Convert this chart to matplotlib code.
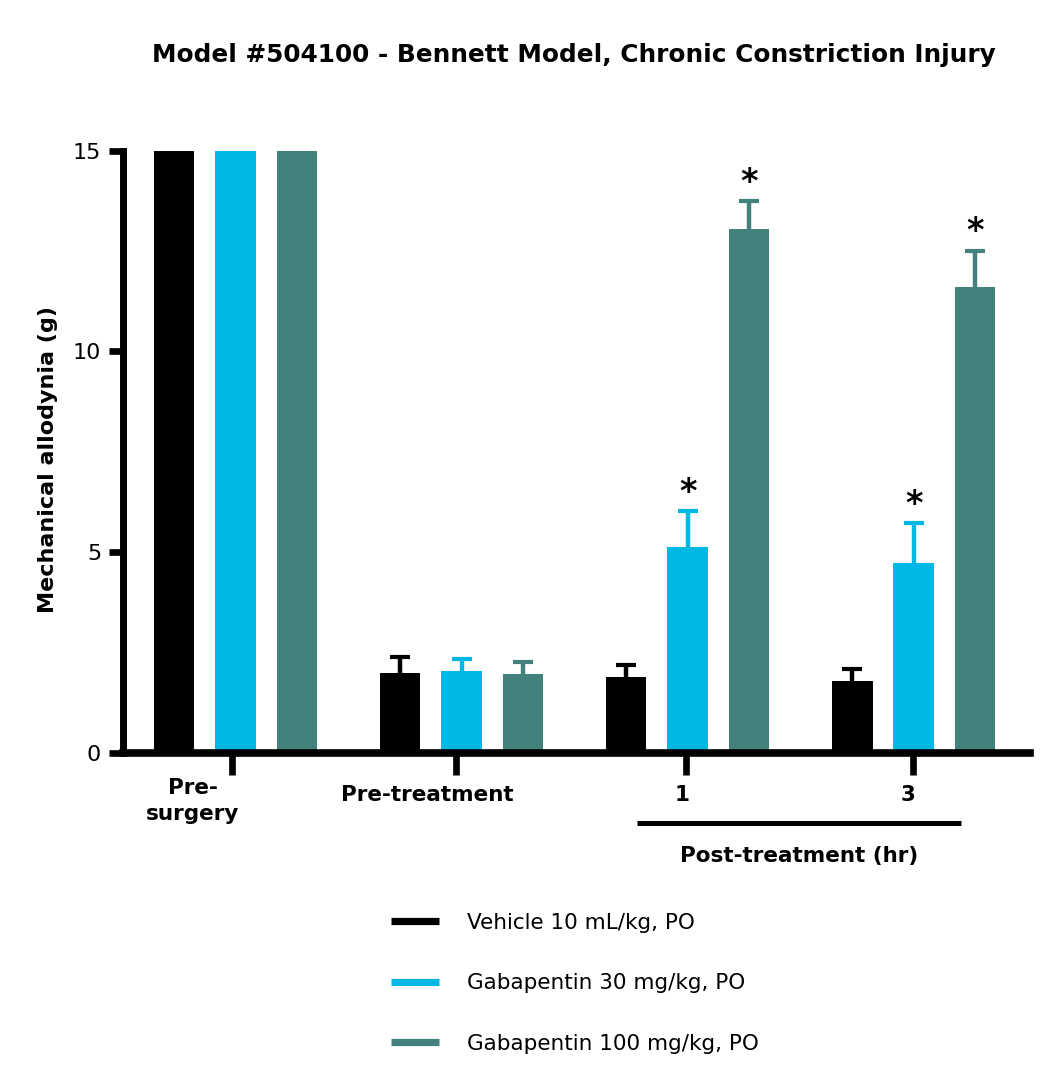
import numpy as np
import matplotlib
matplotlib.use("Agg")
import matplotlib.pyplot as plt
from matplotlib.lines import Line2D

# data
groups = ["Pre-\nsurgery", "Pre-treatment", "1", "3"]
series = ["Vehicle 10 mL/kg, PO", "Gabapentin 30 mg/kg, PO", "Gabapentin 100 mg/kg, PO"]
vehicle = [15, 1.99, 1.87, 1.77]
vehicle_err = [0, 0.39, 0.31, 0.32]
gaba30 = [15, 2.04, 5.11, 4.72]
gaba30_err = [0, 0.30, 0.90, 1.00]
gaba100 = [15, 1.96, 13.04, 11.60]
gaba100_err = [0, 0.30, 0.70, 0.90]
gaba30_sig = [False, False, True, True]
gaba100_sig = [False, False, True, True]
vehicle_sig = [False, False, False, False]

colors = ["#000000", "#00B8E4", "#43817C"]


def main():
    plt.rcParams["font.family"] = ["DejaVu Sans"]
    fig = plt.figure(figsize=(10.5, 10.9), dpi=100)
    ax = fig.add_axes([0.1167, 0.3096, 0.8643, 0.5523])

    x = np.arange(len(groups))
    width = 0.18
    offset = 0.272
    values = [vehicle, gaba30, gaba100]
    errors = [vehicle_err, gaba30_err, gaba100_err]
    sigs = [vehicle_sig, gaba30_sig, gaba100_sig]

    for i, (vals, errs, sig, col, name) in enumerate(zip(values, errors, sigs, colors, series)):
        pos = x + (i - 1) * offset
        vals = np.array(vals, dtype=float)
        errs = np.array(errs, dtype=float)
        ax.bar(pos, vals, width, color=col, label=name, zorder=2)
        # upper error only: stem + cap
        m = errs > 0
        ax.vlines(pos[m], vals[m], vals[m] + errs[m], color=col, lw=3.2, zorder=1)
        ax.plot(pos[m], vals[m] + errs[m], ls="none", marker="_", ms=15, mew=3,
                color=col, zorder=1)
        for p, v, e, s in zip(pos, vals, errs, sig):
            if s:
                ax.annotate("*", (p, v + e), xytext=(0, 6.8), textcoords="offset points",
                            ha="center", va="baseline", fontsize=24, fontweight="bold")

    ax.set_xlim(-0.5, 3.515)
    ax.set_ylim(0, 15)
    ax.set_yticks([0, 5, 10, 15])
    ax.spines["top"].set_visible(False)
    ax.spines["right"].set_visible(False)
    ax.spines["left"].set_linewidth(5)
    ax.spines["bottom"].set_linewidth(5.5)
    ax.tick_params(axis="y", direction="out", length=10.4, width=4.8, labelsize=16, pad=5)
    ax.tick_params(axis="x", direction="out", length=16, width=4.8, labelbottom=False)
    ax.set_xticks([-0.015, 0.975, 1.995, 2.995])

    # category labels (Prism places them a little left of the ticks)
    tr = ax.get_xaxis_transform()
    lab_x = [-0.19, 0.85, 1.975, 2.975]

    def fy(py):
        return (752.5 - py) / 602.0

    ax.text(lab_x[0], fy(794), "Pre-", transform=tr, ha="center", va="baseline",
            fontsize=15.5, fontweight="bold")
    ax.text(lab_x[0], fy(820), "surgery", transform=tr, ha="center", va="baseline",
            fontsize=15.5, fontweight="bold")
    for lx, g in zip(lab_x[1:], groups[1:]):
        ax.text(lx, fy(801), g, transform=tr, ha="center", va="baseline",
                fontsize=15.5, fontweight="bold")

    # bracket under post-treatment groups
    ax.plot([1.775, 3.21], [fy(823.3)] * 2, transform=tr, color="black", lw=3.6,
            clip_on=False, solid_capstyle="butt")
    ax.text((1.775 + 3.21) / 2, fy(861.5), "Post-treatment (hr)", transform=tr,
            ha="center", va="baseline", fontsize=15.5, fontweight="bold")

    ax.set_ylabel("Mechanical allodynia (g)", fontsize=16, fontweight="bold")
    ax.yaxis.set_label_coords(-0.071, 0.486)

    fig.text(574 / 1050, 1 - 61.7 / 1090,
             "Model #504100 - Bennett Model, Chronic Constriction Injury",
             ha="center", va="baseline", fontsize=17.8, fontweight="bold")

    handles = [Line2D([], [], color=c, lw=5.2, solid_capstyle="butt") for c in colors]
    fig.legend(handles, series, loc="upper left", bbox_to_anchor=(391 / 1050, 1 - 913 / 1090),
               frameon=False, fontsize=15.5, handlelength=2.25, handletextpad=1.3,
               labelspacing=1.88, borderpad=0, borderaxespad=0)

    fig.savefig("out.png", dpi=100)


if __name__ == "__main__":
    main()
